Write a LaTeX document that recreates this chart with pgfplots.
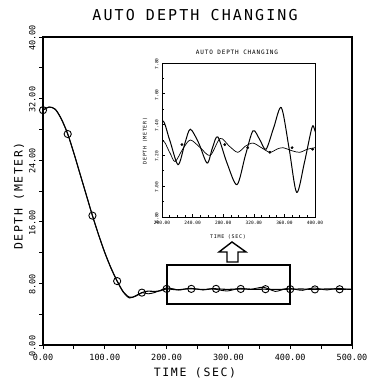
\documentclass[border=0pt]{standalone}
\usepackage{fontspec}
\usepackage{pgfplots}
\pgfplotsset{compat=1.18}
\usepackage{pgfplotstable}
\newfontfamily\plotfont{DejaVu Sans Mono}
\newfontfamily\plotfontw[LetterSpace=14]{DejaVu Sans Mono}

% smooth response (with circle markers)
\pgfplotstableread{
t d
0 30.5
10 30.9
20 30.6
30 29.3
40 27.4
50 24.9
60 22.2
70 19.5
80 16.8
90 14.3
100 12.0
110 10.0
120 8.3
130 6.9
140 6.2
150 6.35
160 6.8
170 7.0
180 6.95
190 7.05
200 7.29
210 7.22
217 7.16
227 7.24
237 7.30
250 7.25
263 7.20
276 7.31
288 7.26
299 7.22
309 7.26
319 7.28
330 7.25
341 7.22
350 7.24
358 7.25
370 7.23
380 7.22
390 7.24
400 7.25
420 7.27
440 7.22
460 7.28
480 7.24
500 7.26
}\smoothtab

% oscillating response
\pgfplotstableread{
t d
0 30.5
10 30.9
20 30.6
30 29.3
40 27.4
50 24.9
60 22.2
70 19.5
80 16.8
90 14.3
100 12.0
110 10.0
120 8.3
130 6.85
140 6.1
150 6.4
160 6.8
170 6.65
180 6.8
190 7.1
200 7.42
210 7.30
221 7.14
230 7.28
237 7.37
248 7.28
259 7.15
266 7.25
273 7.32
285 7.15
298 7.01
309 7.20
319 7.36
328 7.30
336 7.24
346 7.38
356 7.51
366 7.25
376 6.96
386 7.15
396 7.38
400 7.36
410 7.20
420 7.10
430 7.30
440 7.40
450 7.25
460 7.15
470 7.30
480 7.35
490 7.25
500 7.20
}\osctab

% circle markers on main plot
\pgfplotstableread{
t d
0 30.5
40 27.4
80 16.8
120 8.3
160 6.8
200 7.29
240 7.29
280 7.29
320 7.28
360 7.25
400 7.25
440 7.22
480 7.24
}\circtab

% dot markers in inset
\pgfplotstableread{
t d
226 7.27
282 7.27
312 7.25
341 7.22
370 7.25
397 7.24
}\dottab

\begin{document}
\begin{tikzpicture}[x=1pt,y=1pt]
\useasboundingbox (0pt,0pt) rectangle (376pt,386pt);

\node[font=\plotfontw\fontsize{15}{17}\selectfont] at (195pt,371pt) {AUTO DEPTH CHANGING};
\node[font=\plotfontw\fontsize{11.5}{13}\selectfont] at (195pt,13pt) {TIME (SEC)};
\node[font=\plotfontw\fontsize{11.5}{13}\selectfont, rotate=90] at (19pt,190pt) {DEPTH (METER)};

\begin{axis}[
  at={(43pt,41pt)}, anchor=south west,
  scale only axis, width=309pt, height=308pt,
  xmin=0, xmax=500, ymin=0, ymax=40,
  xtick={0,100,...,500}, minor xtick={50,150,...,450},
  ytick={0,8,...,40}, minor ytick={4,12,...,36},
  tick pos=left, tick align=outside,
  major tick length=4pt, minor tick length=4pt,
  axis line style={line width=1.2pt},
  tick style={line width=0.9pt, black},
  /pgf/number format/.cd, fixed, fixed zerofill, precision=2, assume math mode=true,
  /pgfplots/.cd,
  ticklabel style={font=\plotfont\fontsize{8.5}{10}\selectfont},
  xticklabel style={anchor=north, yshift=-2pt},
  yticklabel style={rotate=90, anchor=south, xshift=-1pt},
  scaled ticks=false,
  clip=false,
]
\addplot[black, line width=1.1pt, smooth] table[x=t,y=d] {\smoothtab};
\addplot[black, line width=0.9pt, smooth] table[x=t,y=d] {\osctab};
\addplot[only marks, mark=o, mark size=3.6pt, mark options={line width=0.9pt, fill=none}, black] table[x=t,y=d] {\circtab};
\draw[line width=1.8pt] (axis cs:200,5.3) rectangle (axis cs:400,10.4);
\draw[line width=1.4pt, fill=white] (axis cs:297.7,10.78) -- (axis cs:315.5,10.78) -- (axis cs:315.5,12.08) -- (axis cs:328.5,12.08) -- (axis cs:305.8,13.38) -- (axis cs:284.8,12.08) -- (axis cs:297.7,12.08) -- cycle;
\end{axis}

% inset
\node[font=\plotfontw\fontsize{6}{7}\selectfont] at (237pt,334pt) {AUTO DEPTH CHANGING};
\node[font=\plotfontw\fontsize{5}{6}\selectfont] at (228pt,149pt) {TIME (SEC)};
\node[font=\plotfontw\fontsize{5}{6}\selectfont, rotate=90] at (145pt,245pt) {DEPTH (METER)};
\begin{axis}[
  at={(162pt,169pt)}, anchor=south west,
  scale only axis, width=153pt, height=154pt,
  xmin=200, xmax=400, ymin=6.8, ymax=7.8,
  xtick={200,240,...,400}, ytick={6.8,7.0,...,7.8},
  minor x tick num=3, minor y tick num=1,
  tick pos=left, tick align=inside,
  major tick length=3pt, minor tick length=2pt,
  axis line style={line width=0.8pt},
  tick style={line width=0.6pt, black},
  /pgf/number format/.cd, fixed, fixed zerofill, precision=2, assume math mode=true,
  /pgfplots/.cd,
  ticklabel style={font=\plotfont\fontsize{4.5}{5}\selectfont},
  xticklabel style={anchor=north, yshift=-1pt},
  yticklabel style={rotate=90, anchor=south, xshift=-1pt},
  scaled ticks=false,
]
\addplot[black, line width=0.7pt, smooth] table[x=t,y=d] {\smoothtab};
\addplot[black, line width=1.0pt, smooth] table[x=t,y=d] {\osctab};
\addplot[only marks, mark=*, mark size=1.2pt, black] table[x=t,y=d] {\dottab};
\end{axis}
\end{tikzpicture}
\end{document}
